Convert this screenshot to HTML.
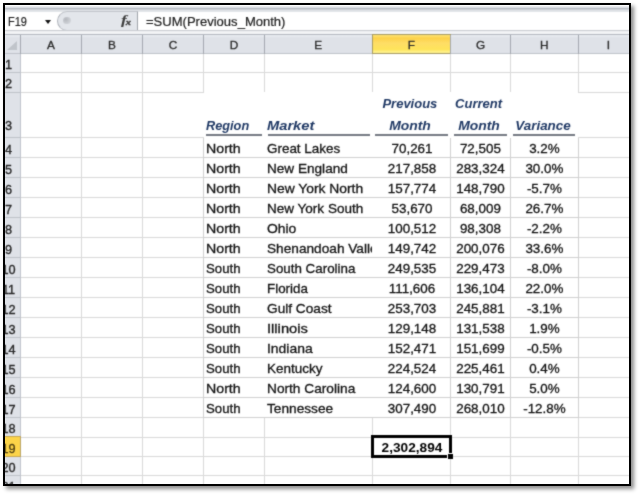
<!DOCTYPE html>
<html><head><meta charset="utf-8"><title>Sheet</title>
<style>
html,body{margin:0;padding:0;background:#fff;}
body{width:640px;height:495px;overflow:hidden;position:relative;font-family:"Liberation Sans",sans-serif;color:#222;}
#frame{position:absolute;left:3px;top:3px;width:624px;height:479px;border:2px solid #000;box-shadow:3px 3px 4px rgba(0,0,0,.45);background:#fff;}
#in{position:absolute;left:5px;top:5px;width:624px;height:479px;overflow:hidden;}
#o{position:absolute;left:-5px;top:-5px;width:640px;height:495px;background:#fff;filter:url(#soft);}
.a{position:absolute;}
.hl{position:absolute;height:1px;}
.vl{position:absolute;width:1px;}
.t{position:absolute;white-space:nowrap;line-height:1;font-size:13.4px;color:#111;-webkit-text-stroke:0.3px #111;transform-origin:0 50%;}
.c{text-align:center;transform-origin:50% 50%;}
.ch{position:absolute;top:36.2px;height:18px;line-height:19px;text-align:center;font-size:11.8px;color:#2a2a2a;-webkit-text-stroke:0.3px #2a2a2a;}
.rh{position:absolute;left:-11.5px;width:40px;text-align:center;font-size:12.7px;color:#262626;line-height:1;-webkit-text-stroke:0.35px #262626;}
.hd{position:absolute;white-space:nowrap;line-height:1;font-size:13px;font-weight:bold;font-style:italic;color:#1f3864;transform-origin:0 50%;}
.hd.c{transform-origin:50% 50%;}
.ul{position:absolute;height:1.8px;background:#747982;}
</style></head><body>
<svg width="0" height="0" style="position:absolute"><defs><filter id="soft" x="0" y="0" width="100%" height="100%" color-interpolation-filters="sRGB"><feConvolveMatrix order="3" kernelMatrix="0.03 0.09 0.03 0.09 0.52 0.09 0.03 0.09 0.03" divisor="1" edgeMode="duplicate" preserveAlpha="true"/></filter></defs></svg>
<div id="frame"></div>
<div id="in"><div id="o">

<div class="a" style="left:0px;top:6px;width:640px;height:6px;background:linear-gradient(#eceef1 0,#dfe2e7 25%,#b6bac2 38%,#b6bac2 52%,#dcdfe4 62%,#e4e7eb 100%);"></div>
<div class="a" style="left:0px;top:12px;width:640px;height:18px;background:#fff;"></div>
<div class="a" style="left:57px;top:11px;width:80.5px;height:20px;background:#e3e6eb;border:1px solid #c2c5cb;border-left-color:#b0b4bb;border-right:1px solid #a0a4ab;border-radius:10px 0 0 10px;box-sizing:border-box;"></div>
<div class="a" style="left:63px;top:16.5px;width:7.5px;height:7.5px;border-radius:50%;background:radial-gradient(circle at 35% 35%,#b4b7bd,#d0d3d8 70%,#e3e6eb);"></div>
<div class="t" style="left:8.4px;top:16px;font-size:12.6px;color:#1c1c1c;-webkit-text-stroke:0.2px #1c1c1c;transform:scaleX(0.87);">F19</div>
<div class="a" style="left:44.8px;top:20px;width:0;height:0;border-left:3.5px solid transparent;border-right:3.5px solid transparent;border-top:4px solid #111;"></div>
<div class="a" style="left:120.5px;top:13px;font-family:'Liberation Serif',serif;font-style:italic;font-weight:bold;font-size:13px;line-height:1;color:#3c3c3c;white-space:nowrap;"><span style="display:inline-block;transform:scaleX(1.35);transform-origin:0 50%;">f</span><span style="font-size:9px;margin-left:1.5px;position:relative;top:0.5px;display:inline-block;transform:scaleX(1.15);-webkit-text-stroke:0.4px #3c3c3c;">x</span></div>
<div class="t" style="left:146px;top:16px;font-size:12.6px;color:#1c1c1c;-webkit-text-stroke:0.2px #1c1c1c;transform:scaleX(1.035);">=SUM(Previous_Month)</div>
<div class="a" style="left:0px;top:30px;width:640px;height:4px;background:linear-gradient(#f4f5f6 0,#c9ccd1 8%,#c9ccd1 33%,#f3f4f6 38%,#f3f4f6 100%);"></div>
<div class="a" style="left:0px;top:34px;width:640px;height:20px;background:linear-gradient(#b3b7bf 0,#b3b7bf 1.3px,#e8ebf0 1.5px,#dfe2e8 4px,#dfe2e8 18.5px,#bfc3ca 18.7px,#bfc3ca 19.8px,#fff 20px);"></div>
<div class="a" style="left:6.5px;top:41px;width:0;height:0;border-left:10px solid transparent;border-bottom:9.5px solid #c0c4ca;"></div>
<div class="ch" style="left:20.5px;width:61.0px;">A</div>
<div class="vl" style="left:81.0px;top:34.5px;height:19.5px;background:#a4a8b0;"></div>
<div class="ch" style="left:81.5px;width:61.0px;">B</div>
<div class="vl" style="left:142.0px;top:34.5px;height:19.5px;background:#a4a8b0;"></div>
<div class="ch" style="left:142.5px;width:61.0px;">C</div>
<div class="vl" style="left:203.0px;top:34.5px;height:19.5px;background:#a4a8b0;"></div>
<div class="ch" style="left:203.5px;width:61.0px;">D</div>
<div class="vl" style="left:264.0px;top:34.5px;height:19.5px;background:#a4a8b0;"></div>
<div class="ch" style="left:264.5px;width:107.5px;">E</div>
<div class="vl" style="left:371.5px;top:34.5px;height:19.5px;background:#a4a8b0;"></div>
<div class="a" style="left:371.7px;top:34.3px;width:79.1px;height:19.9px;background:linear-gradient(#fde275 0,#fdd24a 18%,#fedd66 45%,#fee45a 80%,#fef08a 94%,#fef08a 100%);border:1.3px solid #a89c62;box-sizing:border-box;"></div>
<div class="ch" style="left:372px;width:78.5px;">F</div>
<div class="vl" style="left:450.0px;top:34.5px;height:19.5px;background:#a4a8b0;"></div>
<div class="ch" style="left:450.5px;width:60.0px;">G</div>
<div class="vl" style="left:510.0px;top:34.5px;height:19.5px;background:#a4a8b0;"></div>
<div class="ch" style="left:510.5px;width:67.5px;">H</div>
<div class="vl" style="left:577.5px;top:34.5px;height:19.5px;background:#a4a8b0;"></div>
<div class="ch" style="left:578px;width:61px;">I</div>
<div class="vl" style="left:638.5px;top:34.5px;height:19.5px;background:#a4a8b0;"></div>
<div class="vl" style="left:20px;top:34.5px;height:19.5px;background:#a4a8b0;"></div>
<div class="a" style="left:0px;top:54px;width:20.3px;height:441px;background:#dfe2e8;"></div>
<div class="vl" style="left:20px;top:54px;height:441px;background:#c0c4cc;"></div>
<div class="hl" style="left:0px;top:72.0px;width:20.5px;background:#bec2c9;"></div>
<div class="rh" style="top:58.9px;">1</div>
<div class="hl" style="left:0px;top:91.5px;width:20.5px;background:#bec2c9;"></div>
<div class="rh" style="top:78.4px;">2</div>
<div class="hl" style="left:0px;top:137.0px;width:20.5px;background:#bec2c9;"></div>
<div class="rh" style="top:120.4px;">3</div>
<div class="hl" style="left:0px;top:157.0px;width:20.5px;background:#bec2c9;"></div>
<div class="rh" style="top:143.9px;">4</div>
<div class="hl" style="left:0px;top:177.0px;width:20.5px;background:#bec2c9;"></div>
<div class="rh" style="top:163.9px;">5</div>
<div class="hl" style="left:0px;top:197.0px;width:20.5px;background:#bec2c9;"></div>
<div class="rh" style="top:183.9px;">6</div>
<div class="hl" style="left:0px;top:217.0px;width:20.5px;background:#bec2c9;"></div>
<div class="rh" style="top:203.9px;">7</div>
<div class="hl" style="left:0px;top:237.0px;width:20.5px;background:#bec2c9;"></div>
<div class="rh" style="top:223.9px;">8</div>
<div class="hl" style="left:0px;top:257.0px;width:20.5px;background:#bec2c9;"></div>
<div class="rh" style="top:243.9px;">9</div>
<div class="hl" style="left:0px;top:277.0px;width:20.5px;background:#bec2c9;"></div>
<div class="rh" style="top:263.9px;">10</div>
<div class="hl" style="left:0px;top:297.0px;width:20.5px;background:#bec2c9;"></div>
<div class="rh" style="top:283.9px;">11</div>
<div class="hl" style="left:0px;top:317.0px;width:20.5px;background:#bec2c9;"></div>
<div class="rh" style="top:303.9px;">12</div>
<div class="hl" style="left:0px;top:337.0px;width:20.5px;background:#bec2c9;"></div>
<div class="rh" style="top:323.9px;">13</div>
<div class="hl" style="left:0px;top:357.0px;width:20.5px;background:#bec2c9;"></div>
<div class="rh" style="top:343.9px;">14</div>
<div class="hl" style="left:0px;top:377.0px;width:20.5px;background:#bec2c9;"></div>
<div class="rh" style="top:363.9px;">15</div>
<div class="hl" style="left:0px;top:397.0px;width:20.5px;background:#bec2c9;"></div>
<div class="rh" style="top:383.9px;">16</div>
<div class="hl" style="left:0px;top:417.0px;width:20.5px;background:#bec2c9;"></div>
<div class="rh" style="top:403.9px;">17</div>
<div class="hl" style="left:0px;top:436.5px;width:20.5px;background:#bec2c9;"></div>
<div class="rh" style="top:423.4px;">18</div>
<div class="a" style="left:0px;top:436.1px;width:20.8px;height:20.5px;background:#fcd449;border-top:1px solid #c8a850;border-bottom:1px solid #c8a850;border-right:1px solid #b8a46a;box-sizing:border-box;"></div>
<div class="rh" style="top:442.9px;color:#4a3c10;-webkit-text-stroke:0.3px #4a3c10;">19</div>
<div class="hl" style="left:0px;top:475.0px;width:20.5px;background:#bec2c9;"></div>
<div class="rh" style="top:461.9px;">20</div>
<div class="hl" style="left:0px;top:494.5px;width:20.5px;background:#bec2c9;"></div>
<div class="rh" style="top:481.4px;">21</div>
<div class="hl" style="left:21px;top:72.0px;width:619px;background:#d9d9d9;"></div>
<div class="hl" style="left:21px;top:91.5px;width:182.5px;background:#d9d9d9;"></div>
<div class="hl" style="left:578px;top:91.5px;width:62px;background:#d9d9d9;"></div>
<div class="hl" style="left:21px;top:137.0px;width:182.5px;background:#d9d9d9;"></div>
<div class="hl" style="left:578px;top:137.0px;width:62px;background:#d9d9d9;"></div>
<div class="hl" style="left:21px;top:157.0px;width:182.5px;background:#d9d9d9;"></div>
<div class="hl" style="left:578px;top:157.0px;width:62px;background:#d9d9d9;"></div>
<div class="hl" style="left:203.5px;top:157.0px;width:374.5px;background:#d0d0d0;"></div>
<div class="hl" style="left:21px;top:177.0px;width:182.5px;background:#d9d9d9;"></div>
<div class="hl" style="left:578px;top:177.0px;width:62px;background:#d9d9d9;"></div>
<div class="hl" style="left:203.5px;top:177.0px;width:374.5px;background:#d0d0d0;"></div>
<div class="hl" style="left:21px;top:197.0px;width:182.5px;background:#d9d9d9;"></div>
<div class="hl" style="left:578px;top:197.0px;width:62px;background:#d9d9d9;"></div>
<div class="hl" style="left:203.5px;top:197.0px;width:374.5px;background:#d0d0d0;"></div>
<div class="hl" style="left:21px;top:217.0px;width:182.5px;background:#d9d9d9;"></div>
<div class="hl" style="left:578px;top:217.0px;width:62px;background:#d9d9d9;"></div>
<div class="hl" style="left:203.5px;top:217.0px;width:374.5px;background:#d0d0d0;"></div>
<div class="hl" style="left:21px;top:237.0px;width:182.5px;background:#d9d9d9;"></div>
<div class="hl" style="left:578px;top:237.0px;width:62px;background:#d9d9d9;"></div>
<div class="hl" style="left:203.5px;top:237.0px;width:374.5px;background:#d0d0d0;"></div>
<div class="hl" style="left:21px;top:257.0px;width:182.5px;background:#d9d9d9;"></div>
<div class="hl" style="left:578px;top:257.0px;width:62px;background:#d9d9d9;"></div>
<div class="hl" style="left:203.5px;top:257.0px;width:374.5px;background:#d0d0d0;"></div>
<div class="hl" style="left:21px;top:277.0px;width:182.5px;background:#d9d9d9;"></div>
<div class="hl" style="left:578px;top:277.0px;width:62px;background:#d9d9d9;"></div>
<div class="hl" style="left:203.5px;top:277.0px;width:374.5px;background:#d0d0d0;"></div>
<div class="hl" style="left:21px;top:297.0px;width:182.5px;background:#d9d9d9;"></div>
<div class="hl" style="left:578px;top:297.0px;width:62px;background:#d9d9d9;"></div>
<div class="hl" style="left:203.5px;top:297.0px;width:374.5px;background:#d0d0d0;"></div>
<div class="hl" style="left:21px;top:317.0px;width:182.5px;background:#d9d9d9;"></div>
<div class="hl" style="left:578px;top:317.0px;width:62px;background:#d9d9d9;"></div>
<div class="hl" style="left:203.5px;top:317.0px;width:374.5px;background:#d0d0d0;"></div>
<div class="hl" style="left:21px;top:337.0px;width:182.5px;background:#d9d9d9;"></div>
<div class="hl" style="left:578px;top:337.0px;width:62px;background:#d9d9d9;"></div>
<div class="hl" style="left:203.5px;top:337.0px;width:374.5px;background:#d0d0d0;"></div>
<div class="hl" style="left:21px;top:357.0px;width:182.5px;background:#d9d9d9;"></div>
<div class="hl" style="left:578px;top:357.0px;width:62px;background:#d9d9d9;"></div>
<div class="hl" style="left:203.5px;top:357.0px;width:374.5px;background:#d0d0d0;"></div>
<div class="hl" style="left:21px;top:377.0px;width:182.5px;background:#d9d9d9;"></div>
<div class="hl" style="left:578px;top:377.0px;width:62px;background:#d9d9d9;"></div>
<div class="hl" style="left:203.5px;top:377.0px;width:374.5px;background:#d0d0d0;"></div>
<div class="hl" style="left:21px;top:397.0px;width:182.5px;background:#d9d9d9;"></div>
<div class="hl" style="left:578px;top:397.0px;width:62px;background:#d9d9d9;"></div>
<div class="hl" style="left:203.5px;top:397.0px;width:374.5px;background:#d0d0d0;"></div>
<div class="hl" style="left:21px;top:417.0px;width:182.5px;background:#d9d9d9;"></div>
<div class="hl" style="left:578px;top:417.0px;width:62px;background:#d9d9d9;"></div>
<div class="hl" style="left:203.5px;top:417.0px;width:374.5px;background:#d0d0d0;"></div>
<div class="hl" style="left:21px;top:436.5px;width:619px;background:#d9d9d9;"></div>
<div class="hl" style="left:21px;top:456.0px;width:619px;background:#d9d9d9;"></div>
<div class="hl" style="left:21px;top:475.0px;width:619px;background:#d9d9d9;"></div>
<div class="vl" style="left:81.0px;top:54px;height:441px;background:#d9d9d9;"></div>
<div class="vl" style="left:142.0px;top:54px;height:441px;background:#d9d9d9;"></div>
<div class="vl" style="left:203.0px;top:54px;height:38px;background:#d9d9d9;"></div>
<div class="vl" style="left:203.0px;top:137.5px;height:280.0px;background:#d0d0d0;"></div>
<div class="vl" style="left:203.0px;top:417.5px;height:77.5px;background:#d9d9d9;"></div>
<div class="vl" style="left:264.0px;top:54px;height:38px;background:#d9d9d9;"></div>
<div class="vl" style="left:264.0px;top:417.5px;height:77.5px;background:#d9d9d9;"></div>
<div class="vl" style="left:371.5px;top:54px;height:38px;background:#d9d9d9;"></div>
<div class="vl" style="left:371.5px;top:417.5px;height:77.5px;background:#d9d9d9;"></div>
<div class="vl" style="left:450.0px;top:54px;height:38px;background:#d9d9d9;"></div>
<div class="vl" style="left:450.0px;top:137.5px;height:280.0px;background:#d0d0d0;"></div>
<div class="vl" style="left:450.0px;top:417.5px;height:77.5px;background:#d9d9d9;"></div>
<div class="vl" style="left:510.0px;top:54px;height:38px;background:#d9d9d9;"></div>
<div class="vl" style="left:510.0px;top:137.5px;height:280.0px;background:#d0d0d0;"></div>
<div class="vl" style="left:510.0px;top:417.5px;height:77.5px;background:#d9d9d9;"></div>
<div class="vl" style="left:577.5px;top:54px;height:38px;background:#d9d9d9;"></div>
<div class="vl" style="left:577.5px;top:137.5px;height:280.0px;background:#d0d0d0;"></div>
<div class="vl" style="left:577.5px;top:417.5px;height:77.5px;background:#d9d9d9;"></div>
<div class="hd" style="left:206px;top:119.0px;transform:scaleX(0.98);">Region</div>
<div class="hd" style="left:267px;top:119.0px;transform:scaleX(1.13);">Market</div>
<div class="hd c" style="left:349.9px;width:120px;top:97.0px;transform:scaleX(1.0);">Previous</div>
<div class="hd c" style="left:350.3px;width:120px;top:119.0px;transform:scaleX(1.07);">Month</div>
<div class="hd c" style="left:418.6px;width:120px;top:97.0px;transform:scaleX(1.0);">Current</div>
<div class="hd c" style="left:419.1px;width:120px;top:119.0px;transform:scaleX(1.07);">Month</div>
<div class="hd c" style="left:483.4px;width:120px;top:119.0px;transform:scaleX(1.03);">Variance</div>
<div class="ul" style="left:206px;top:133.9px;width:55.5px;"></div>
<div class="ul" style="left:267.5px;top:133.9px;width:102.0px;"></div>
<div class="ul" style="left:374.6px;top:133.9px;width:73.19999999999999px;"></div>
<div class="ul" style="left:453.7px;top:133.9px;width:53.30000000000001px;"></div>
<div class="ul" style="left:513px;top:133.9px;width:62px;"></div>
<div class="t" style="left:205.9px;top:142.20000000000002px;transform:scaleX(1.06);">North</div>
<div class="a" style="left:264.5px;top:140.20000000000002px;width:107.5px;height:18px;overflow:hidden;"><div class="t" style="left:2.0px;top:2px;transform:scaleX(1.00347);">Great Lakes</div></div>
<div class="t c" style="left:362.0px;width:100px;top:142.20000000000002px;transform:scaleX(1.0);">70,261</div>
<div class="t c" style="left:430.4px;width:100px;top:142.20000000000002px;transform:scaleX(1.0);">72,505</div>
<div class="t c" style="left:494.4px;width:100px;top:142.20000000000002px;transform:scaleX(1.0);">3.2%</div>
<div class="t" style="left:205.9px;top:162.20000000000002px;transform:scaleX(1.06);">North</div>
<div class="a" style="left:264.5px;top:160.20000000000002px;width:107.5px;height:18px;overflow:hidden;"><div class="t" style="left:2.0px;top:2px;transform:scaleX(1.014381225);">New England</div></div>
<div class="t c" style="left:362.0px;width:100px;top:162.20000000000002px;transform:scaleX(1.0);">217,858</div>
<div class="t c" style="left:430.4px;width:100px;top:162.20000000000002px;transform:scaleX(1.0);">283,324</div>
<div class="t c" style="left:494.4px;width:100px;top:162.20000000000002px;transform:scaleX(1.0);">30.0%</div>
<div class="t" style="left:205.9px;top:182.20000000000002px;transform:scaleX(1.06);">North</div>
<div class="a" style="left:264.5px;top:180.20000000000002px;width:107.5px;height:18px;overflow:hidden;"><div class="t" style="left:2.0px;top:2px;transform:scaleX(1.033695);">New York North</div></div>
<div class="t c" style="left:362.0px;width:100px;top:182.20000000000002px;transform:scaleX(1.0);">157,774</div>
<div class="t c" style="left:430.4px;width:100px;top:182.20000000000002px;transform:scaleX(1.0);">148,790</div>
<div class="t c" style="left:494.4px;width:100px;top:182.20000000000002px;transform:scaleX(1.0);">-5.7%</div>
<div class="t" style="left:205.9px;top:202.20000000000002px;transform:scaleX(1.06);">North</div>
<div class="a" style="left:264.5px;top:200.20000000000002px;width:107.5px;height:18px;overflow:hidden;"><div class="t" style="left:2.0px;top:2px;transform:scaleX(1.009920015);">New York South</div></div>
<div class="t c" style="left:362.0px;width:100px;top:202.20000000000002px;transform:scaleX(1.0);">53,670</div>
<div class="t c" style="left:430.4px;width:100px;top:202.20000000000002px;transform:scaleX(1.0);">68,009</div>
<div class="t c" style="left:494.4px;width:100px;top:202.20000000000002px;transform:scaleX(1.0);">26.7%</div>
<div class="t" style="left:205.9px;top:222.20000000000002px;transform:scaleX(1.06);">North</div>
<div class="a" style="left:264.5px;top:220.20000000000002px;width:107.5px;height:18px;overflow:hidden;"><div class="t" style="left:2.0px;top:2px;transform:scaleX(1.037725);">Ohio</div></div>
<div class="t c" style="left:362.0px;width:100px;top:222.20000000000002px;transform:scaleX(1.0);">100,512</div>
<div class="t c" style="left:430.4px;width:100px;top:222.20000000000002px;transform:scaleX(1.0);">98,308</div>
<div class="t c" style="left:494.4px;width:100px;top:222.20000000000002px;transform:scaleX(1.0);">-2.2%</div>
<div class="t" style="left:205.9px;top:242.20000000000002px;transform:scaleX(1.06);">North</div>
<div class="a" style="left:264.5px;top:240.20000000000002px;width:107.5px;height:18px;overflow:hidden;"><div class="t" style="left:2.0px;top:2px;transform:scaleX(1.02);">Shenandoah Valley</div></div>
<div class="t c" style="left:362.0px;width:100px;top:242.20000000000002px;transform:scaleX(1.0);">149,742</div>
<div class="t c" style="left:430.4px;width:100px;top:242.20000000000002px;transform:scaleX(1.0);">200,076</div>
<div class="t c" style="left:494.4px;width:100px;top:242.20000000000002px;transform:scaleX(1.0);">33.6%</div>
<div class="t" style="left:205.9px;top:262.2px;transform:scaleX(0.985);">South</div>
<div class="a" style="left:264.5px;top:260.2px;width:107.5px;height:18px;overflow:hidden;"><div class="t" style="left:2.0px;top:2px;transform:scaleX(0.997425);">South Carolina</div></div>
<div class="t c" style="left:362.0px;width:100px;top:262.2px;transform:scaleX(1.0);">249,535</div>
<div class="t c" style="left:430.4px;width:100px;top:262.2px;transform:scaleX(1.0);">229,473</div>
<div class="t c" style="left:494.4px;width:100px;top:262.2px;transform:scaleX(1.0);">-8.0%</div>
<div class="t" style="left:205.9px;top:282.2px;transform:scaleX(0.985);">South</div>
<div class="a" style="left:264.5px;top:280.2px;width:107.5px;height:18px;overflow:hidden;"><div class="t" style="left:2.0px;top:2px;transform:scaleX(0.997425);">Florida</div></div>
<div class="t c" style="left:362.0px;width:100px;top:282.2px;transform:scaleX(1.0);">111,606</div>
<div class="t c" style="left:430.4px;width:100px;top:282.2px;transform:scaleX(1.0);">136,104</div>
<div class="t c" style="left:494.4px;width:100px;top:282.2px;transform:scaleX(1.0);">22.0%</div>
<div class="t" style="left:205.9px;top:302.2px;transform:scaleX(0.985);">South</div>
<div class="a" style="left:264.5px;top:300.2px;width:107.5px;height:18px;overflow:hidden;"><div class="t" style="left:2.0px;top:2px;transform:scaleX(1.0205975);">Gulf Coast</div></div>
<div class="t c" style="left:362.0px;width:100px;top:302.2px;transform:scaleX(1.0);">253,703</div>
<div class="t c" style="left:430.4px;width:100px;top:302.2px;transform:scaleX(1.0);">245,881</div>
<div class="t c" style="left:494.4px;width:100px;top:302.2px;transform:scaleX(1.0);">-3.1%</div>
<div class="t" style="left:205.9px;top:322.2px;transform:scaleX(0.985);">South</div>
<div class="a" style="left:264.5px;top:320.2px;width:107.5px;height:18px;overflow:hidden;"><div class="t" style="left:2.0px;top:2px;transform:scaleX(1.0981750000000001);">Illinois</div></div>
<div class="t c" style="left:362.0px;width:100px;top:322.2px;transform:scaleX(1.0);">129,148</div>
<div class="t c" style="left:430.4px;width:100px;top:322.2px;transform:scaleX(1.0);">131,538</div>
<div class="t c" style="left:494.4px;width:100px;top:322.2px;transform:scaleX(1.0);">1.9%</div>
<div class="t" style="left:205.9px;top:342.2px;transform:scaleX(0.985);">South</div>
<div class="a" style="left:264.5px;top:340.2px;width:107.5px;height:18px;overflow:hidden;"><div class="t" style="left:2.0px;top:2px;transform:scaleX(1.0399818000000003);">Indiana</div></div>
<div class="t c" style="left:362.0px;width:100px;top:342.2px;transform:scaleX(1.0);">152,471</div>
<div class="t c" style="left:430.4px;width:100px;top:342.2px;transform:scaleX(1.0);">151,699</div>
<div class="t c" style="left:494.4px;width:100px;top:342.2px;transform:scaleX(1.0);">-0.5%</div>
<div class="t" style="left:205.9px;top:362.2px;transform:scaleX(0.985);">South</div>
<div class="a" style="left:264.5px;top:360.2px;width:107.5px;height:18px;overflow:hidden;"><div class="t" style="left:2.0px;top:2px;transform:scaleX(1.0075);">Kentucky</div></div>
<div class="t c" style="left:362.0px;width:100px;top:362.2px;transform:scaleX(1.0);">224,524</div>
<div class="t c" style="left:430.4px;width:100px;top:362.2px;transform:scaleX(1.0);">225,461</div>
<div class="t c" style="left:494.4px;width:100px;top:362.2px;transform:scaleX(1.0);">0.4%</div>
<div class="t" style="left:205.9px;top:382.2px;transform:scaleX(1.06);">North</div>
<div class="a" style="left:264.5px;top:380.2px;width:107.5px;height:18px;overflow:hidden;"><div class="t" style="left:2.0px;top:2px;transform:scaleX(1.0226125);">North Carolina</div></div>
<div class="t c" style="left:362.0px;width:100px;top:382.2px;transform:scaleX(1.0);">124,600</div>
<div class="t c" style="left:430.4px;width:100px;top:382.2px;transform:scaleX(1.0);">130,791</div>
<div class="t c" style="left:494.4px;width:100px;top:382.2px;transform:scaleX(1.0);">5.0%</div>
<div class="t" style="left:205.9px;top:402.2px;transform:scaleX(0.985);">South</div>
<div class="a" style="left:264.5px;top:400.2px;width:107.5px;height:18px;overflow:hidden;"><div class="t" style="left:2.0px;top:2px;transform:scaleX(1.0214841);">Tennessee</div></div>
<div class="t c" style="left:362.0px;width:100px;top:402.2px;transform:scaleX(1.0);">307,490</div>
<div class="t c" style="left:430.4px;width:100px;top:402.2px;transform:scaleX(1.0);">268,010</div>
<div class="t c" style="left:494.4px;width:100px;top:402.2px;transform:scaleX(1.0);">-12.8%</div>
<div class="a" style="left:371px;top:435px;width:81px;height:23px;border:3px solid #000;box-sizing:border-box;"></div>
<div class="a" style="left:447px;top:453px;width:5px;height:5px;background:#000;border-left:1px solid #fff;border-top:1px solid #fff;"></div>
<div class="t c" style="left:362.4px;width:100px;top:440.8px;font-weight:bold;color:#000;-webkit-text-stroke:0;transform:scaleX(1.02);">2,302,894</div>
</div></div></body></html>
